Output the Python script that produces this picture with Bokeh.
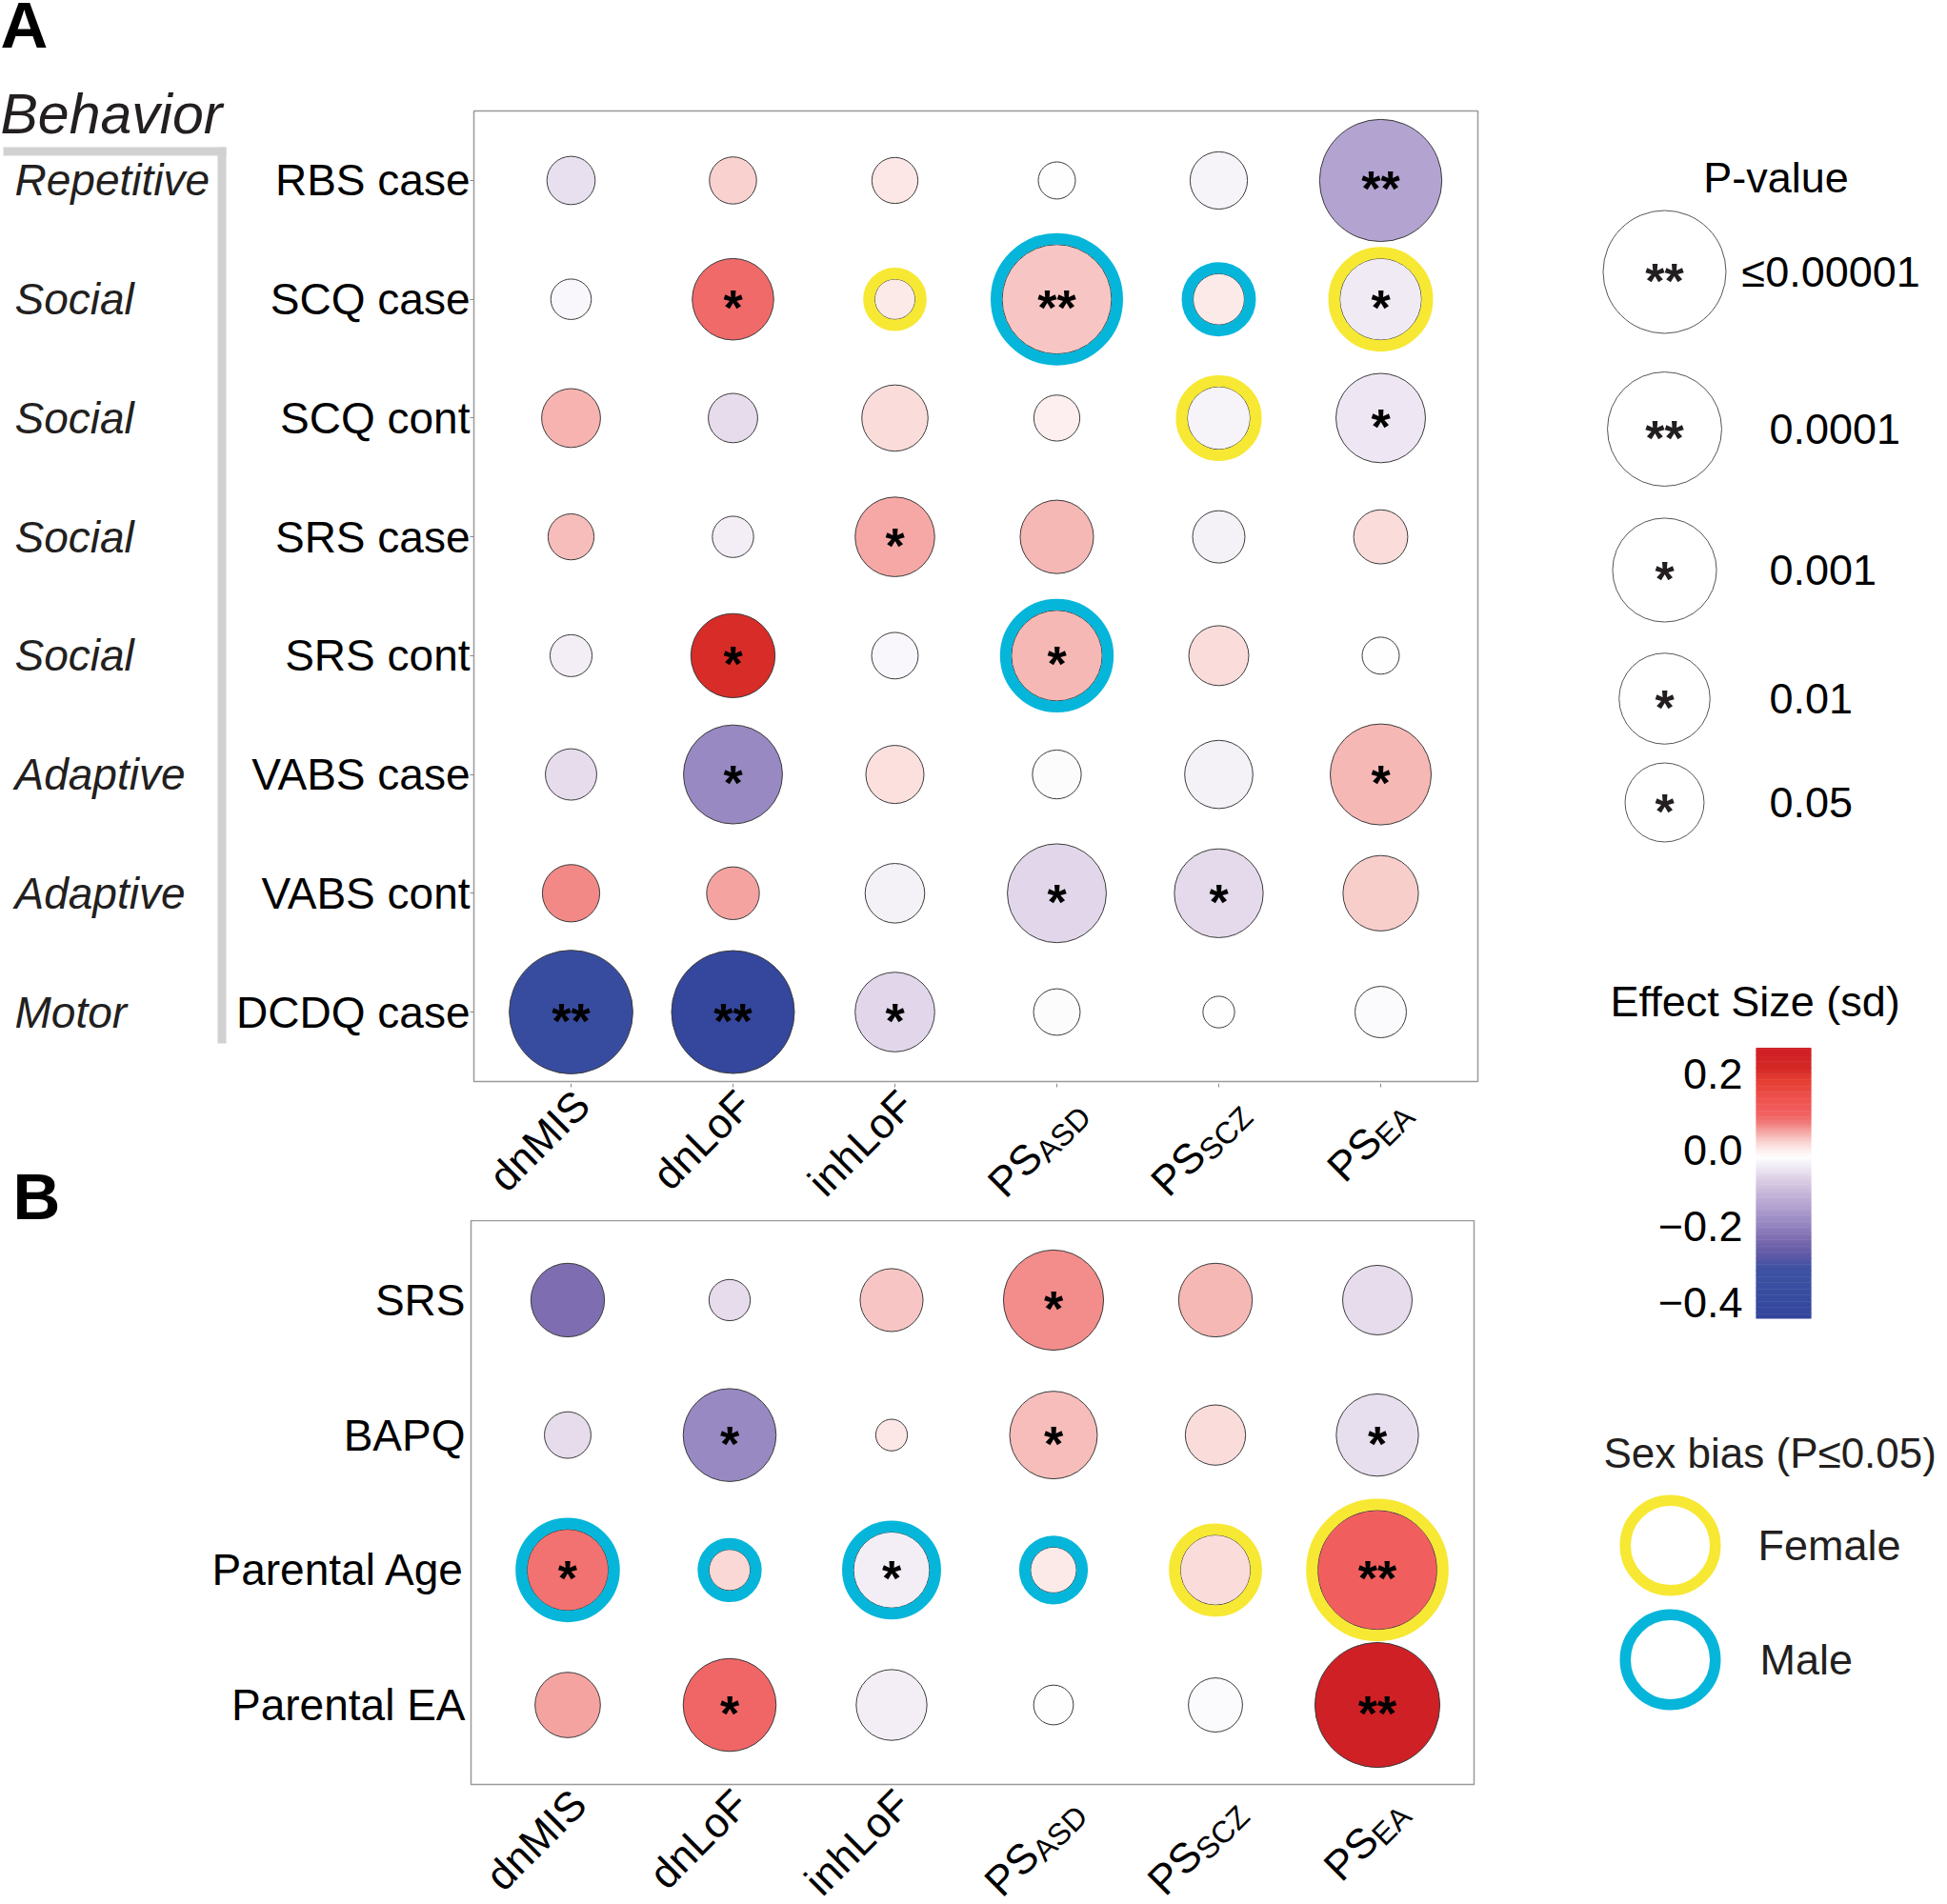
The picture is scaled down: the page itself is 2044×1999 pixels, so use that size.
import math
from bokeh.plotting import figure
from bokeh.models import ColumnDataSource, FactorRange, Range1d, LinearColorMapper
from bokeh.layouts import row, column
from bokeh.transform import transform
from bokeh.core.properties import value
from bokeh.embed import file_html
from bokeh.resources import INLINE

# ------------------------------------------------------------------ data
predictors = ["dnMIS", "dnLoF", "inhLoF", "PS_ASD", "PS_SCZ", "PS_EA"]
predictor_main = ["dnMIS", "dnLoF", "inhLoF", "PS", "PS", "PS"]
predictor_sub = ["", "", "", "ASD", "SCZ", "EA"]

measures_A = ["RBS case", "SCQ case", "SCQ cont", "SRS case", "SRS cont",
              "VABS case", "VABS cont", "DCDQ case"]
domains_A = ["Repetitive", "Social", "Social", "Social", "Social",
             "Adaptive", "Adaptive", "Motor"]
effect_A = [
    [-0.058, 0.020, 0.004, -0.020, -0.035, -0.145],
    [-0.030, 0.085, 0.000, 0.030, 0.002, -0.045],
    [0.040, -0.062, 0.013, -0.005, -0.035, -0.050],
    [0.035, -0.040, 0.046, 0.036, -0.038, 0.012],
    [-0.040, 0.210, -0.028, 0.038, 0.013, -0.020],
    [-0.062, -0.190, 0.010, -0.024, -0.038, 0.036],
    [0.062, 0.047, -0.038, -0.068, -0.066, 0.022],
    [-0.385, -0.430, -0.068, -0.024, -0.020, -0.027],
]
neglog10p_A = [
    [0.29, 0.27, 0.25, 0.13, 0.49, 4.93],
    [0.17, 1.43, 0.17, 3.52, 0.35, 1.45],
    [0.53, 0.31, 0.76, 0.25, 0.65, 1.90],
    [0.25, 0.18, 1.33, 1.04, 0.37, 0.41],
    [0.19, 1.58, 0.26, 1.99, 0.56, 0.13],
    [0.35, 2.58, 0.51, 0.30, 0.83, 2.75],
    [0.49, 0.38, 0.55, 2.58, 1.86, 1.13],
    [5.09, 5.00, 1.33, 0.26, 0.08, 0.35],
]
stars_A = [
    ["", "", "", "", "", "**"],
    ["", "*", "", "**", "", "*"],
    ["", "", "", "", "", "*"],
    ["", "", "*", "", "", ""],
    ["", "*", "", "*", "", ""],
    ["", "*", "", "", "", "*"],
    ["", "", "", "*", "*", ""],
    ["**", "**", "*", "", "", ""],
]
sexbias_A = [
    ["", "", "", "", "", ""],
    ["", "", "F", "M", "M", "F"],
    ["", "", "", "", "F", ""],
    ["", "", "", "", "", ""],
    ["", "", "", "M", "", ""],
    ["", "", "", "", "", ""],
    ["", "", "", "", "", ""],
    ["", "", "", "", "", ""],
]

measures_B = ["SRS", "BAPQ", "Parental Age", "Parental EA"]
effect_B = [
    [-0.232, -0.062, 0.028, 0.058, 0.036, -0.062],
    [-0.062, -0.190, 0.004, 0.035, 0.012, -0.060],
    [0.078, 0.016, -0.040, 0.000, 0.013, 0.100],
    [0.047, 0.088, -0.040, -0.022, -0.026, 0.262],
]
neglog10p_B = [
    [1.05, 0.18, 0.65, 2.68, 1.05, 0.88],
    [0.26, 2.13, 0.08, 1.78, 0.57, 1.47],
    [1.43, 0.18, 1.16, 0.25, 0.91, 4.61],
    [0.73, 2.13, 0.93, 0.16, 0.41, 5.26],
]
stars_B = [
    ["", "", "", "*", "", ""],
    ["", "*", "", "*", "", "*"],
    ["*", "", "*", "", "", "**"],
    ["", "*", "", "", "", "**"],
]
sexbias_B = [
    ["", "", "", "", "", ""],
    ["", "", "", "", "", ""],
    ["M", "M", "M", "M", "F", "F"],
    ["", "", "", "", "", ""],
]

pvalue_levels = [1e-5, 1e-4, 1e-3, 1e-2, 0.05]
pvalue_labels = ["\u22640.00001", "0.0001", "0.001", "0.01", "0.05"]
pvalue_stars = ["**", "**", "*", "*", "*"]
effect_ticks = [0.2, 0.0, -0.2, -0.4]
effect_tick_labels = ["0.2", "0.0", "\u22120.2", "\u22120.4"]
sex_keys = ["F", "M"]
sex_labels = ["Female", "Male"]

# ------------------------------------------------------------------ styles
FONT = "Liberation Sans"
INK = "#231f20"
GRID_GRAY = "#9a9a9a"
SEX_COLOR = {"F": "#f7e833", "M": "#06b6da"}
RING_W = 12
STAR_PX = 52
STAR_DY = 9
MID = 0.35                       # em offset between baseline and middle line
MAIN_PX, SUB_PX = 44, 32
NP_DX, NP_DY = 11.5, 17          # anchor of plain tick labels (from tick / frame bottom)
PS_DX, PS_DY = 23, 25            # anchor of subscripted tick labels
SUB_DROP = 7
SUB_W = {"A": 0.667, "S": 0.667, "D": 0.722, "C": 0.722, "Z": 0.611, "E": 0.667}

STOPS = [(-0.444, "#33459b"), (-0.362, "#3a4fa1"), (-0.312, "#3f51a2"),
         (-0.278, "#5e5aa6"), (-0.245, "#7566ac"), (-0.203, "#9282be"),
         (-0.152, "#b0a0cf"), (-0.111, "#c8b8da"), (-0.077, "#ddd0e6"),
         (-0.043, "#f1ecf5"), (-0.020, "#ffffff"), (0.0025, "#fce9e8"),
         (0.032, "#f7c3c0"), (0.061, "#f28b89"), (0.090, "#f06363"),
         (0.132, "#ef5350"), (0.183, "#e43d32"), (0.216, "#d42826"),
         (0.266, "#cf1f26")]
LOW, HIGH = STOPS[0][0], STOPS[-1][0]


def _hex(c):
    return tuple(int(c[i:i + 2], 16) for i in (1, 3, 5))


def build_palette(n=256):
    out = []
    for k in range(n):
        v = LOW + (HIGH - LOW) * k / (n - 1)
        for (v0, c0), (v1, c1) in zip(STOPS[:-1], STOPS[1:]):
            if v0 <= v <= v1:
                t = (v - v0) / (v1 - v0)
                a, b = _hex(c0), _hex(c1)
                out.append("#%02x%02x%02x" % tuple(round(a[i] + (b[i] - a[i]) * t) for i in range(3)))
                break
    return out


mapper = LinearColorMapper(palette=build_palette(), low=LOW, high=HIGH)


def diameter(nlp):
    return 76.1 * nlp ** 0.328


def sub_width(s):
    return sum(SUB_W[ch] for ch in s) * SUB_PX


def blank(p):
    p.xgrid.visible = False
    p.ygrid.visible = False
    p.outline_line_color = None
    p.background_fill_color = "white"
    p.border_fill_color = "white"


def cells(measures, eff, nlp, stars, sex):
    d = dict(x=[], y=[], effect=[], size=[], star=[])
    rg = dict(x=[], y=[], size=[], color=[])
    for i, m in enumerate(measures):
        for j, pr in enumerate(predictors):
            s = diameter(nlp[i][j])
            d["x"].append(pr); d["y"].append(m)
            d["effect"].append(eff[i][j]); d["size"].append(s)
            d["star"].append(stars[i][j])
            if sex[i][j]:
                rg["x"].append(pr); rg["y"].append(m)
                rg["size"].append(s + RING_W)
                rg["color"].append(SEX_COLOR[sex[i][j]])
    return ColumnDataSource(d), ColumnDataSource(rg)


def make_panel(measures, eff, nlp, stars, sex, width, fw, fh, left, top, bottom,
               xpad, ypad, standoff, tick_out):
    p = figure(x_range=FactorRange(factors=predictors, range_padding=xpad, range_padding_units="absolute"),
               y_range=FactorRange(factors=measures[::-1], range_padding=ypad, range_padding_units="absolute"),
               frame_width=fw, frame_height=fh, min_border_left=left,
               min_border_right=width - left - fw, min_border_top=top, min_border_bottom=bottom,
               x_axis_location=None, output_backend="svg", toolbar_location=None, title=None)
    p.xgrid.visible = False
    p.ygrid.visible = False
    p.outline_line_color = GRID_GRAY
    p.outline_line_width = 1.5
    p.background_fill_color = "white"
    p.border_fill_color = "white"
    ax = p.yaxis[0]
    ax.axis_line_color = None
    ax.major_tick_line_color = "#8a8a8a"
    ax.major_tick_in = 0
    ax.major_tick_out = tick_out
    ax.minor_tick_line_color = None
    ax.major_label_text_font = FONT
    ax.major_label_text_font_size = "46px"
    ax.major_label_text_color = "black"
    ax.major_label_standoff = standoff

    src, rings = cells(measures, eff, nlp, stars, sex)
    p.scatter("x", "y", size="size", source=src, fill_color=transform("effect", mapper),
              line_color="#3b3b3b", line_width=1)
    p.scatter("x", "y", size="size", source=rings, fill_color=None,
              line_color="color", line_width=RING_W)
    p.text("x", "y", text="star", source=src, text_align="center", text_baseline="alphabetic",
           y_offset=STAR_DY, text_font=value(FONT), text_font_style="bold",
           text_font_size=value("%dpx" % STAR_PX), text_color="black")
    return p


def make_xlabels(panel, width, fw, left, y_top, y_bottom, label_top_ref, ticks):
    """Strip under a panel that shares its x scale; y data = minus reference pixel row."""
    p = figure(x_range=panel.x_range, y_range=Range1d(-y_bottom, -y_top),
               frame_width=fw, frame_height=y_bottom - y_top, min_border_left=left,
               min_border_right=width - left - fw, min_border_top=0, min_border_bottom=0,
               x_axis_location=None, y_axis_location=None, output_backend="svg",
               toolbar_location=None, title=None)
    blank(p)
    if ticks:
        p.segment(x0=predictors, y0=[-y_top] * 6, x1=predictors, y1=[-(y_top + 4)] * 6,
                  line_color="#8a8a8a", line_width=1)
    c45 = math.cos(math.pi / 4)
    m_xo, m_y, s_xo, s_y = [], [], [], []
    for sub in predictor_sub:
        if sub:
            s = sub_width(sub) * c45
            m_xo.append(PS_DX - s); m_y.append(-(label_top_ref + PS_DY + s))
            s_xo.append(PS_DX + SUB_DROP); s_y.append(-(label_top_ref + PS_DY + SUB_DROP))
        else:
            m_xo.append(NP_DX); m_y.append(-(label_top_ref + NP_DY))
            s_xo.append(NP_DX); s_y.append(-(label_top_ref + NP_DY))
    main = ColumnDataSource(dict(x=predictors, y=m_y, text=predictor_main, xo=m_xo))
    subs = ColumnDataSource(dict(x=predictors, y=s_y, text=predictor_sub, xo=s_xo))
    for src, px in ((main, MAIN_PX), (subs, SUB_PX)):
        p.text("x", "y", text="text", x_offset="xo", source=src, angle=math.pi / 4,
               text_align="right", text_baseline="alphabetic", text_font=value(FONT),
               text_font_size=value("%dpx" % px), text_color="black")
    return p


# ------------------------------------------------------------------ panel A
# figA: reference pixels x 242..1660, y 0..1137 ; frame x 497..1551, y 116..1135
A_PAD_X, A_PAD_Y = 0.1, 0.085     # FactorRange padding, applied on each side
figA = make_panel(measures_A, effect_A, neglog10p_A, stars_A, sexbias_A,
                  width=1418, fw=1054, fh=1019, left=255, top=116, bottom=2,
                  xpad=A_PAD_X, ypad=A_PAD_Y, standoff=0, tick_out=4)
figA_x = make_xlabels(figA, 1418, 1054, 255, 1137, 1281, 1135, ticks=True)

# left strip for panel A: reference pixels x 0..242, y 0..1281
figLeft = figure(x_range=Range1d(0, 242), y_range=Range1d(1281, 0), width=242, height=1281,
                 min_border=0, x_axis_type=None, y_axis_type=None, output_backend="svg",
                 toolbar_location=None, title=None)
blank(figLeft)
row_step_A = 1019 / (len(measures_A) + 2 * A_PAD_Y)
domain_y = [116 + (A_PAD_Y + i + 0.5) * row_step_A for i in range(len(measures_A))]
figLeft.text(x=[15] * len(domains_A), y=domain_y, text=domains_A, text_align="left",
             text_baseline="middle", text_font=value(FONT), text_font_style="italic",
             text_font_size=value("46px"), text_color=INK)
figLeft.quad(left=[3, 228], right=[237, 237], top=[154, 154], bottom=[163, 1095],
             fill_color="#d1d1d1", line_color=None)
figLeft.text(x=[0], y=[140 - MID * 59], text=["Behavior"], text_align="left",
             text_baseline="middle", text_font=value(FONT), text_font_style="italic",
             text_font_size=value("59px"), text_color=INK)
figLeft.text(x=[0, 13], y=[50 - MID * 69, 1280 - MID * 69], text=["A", "B"], text_align="left",
             text_baseline="middle", text_font=value(FONT), text_font_style="bold",
             text_font_size=value("69px"), text_color="black")

# ------------------------------------------------------------------ panel B
# figB: reference pixels x 0..1660, y 1281..1875 ; frame x 494..1547, y 1281..1873
figB = make_panel(measures_B, effect_B, neglog10p_B, stars_B, sexbias_B,
                  width=1660, fw=1053, fh=592, left=494, top=0, bottom=2,
                  xpad=0.097, ypad=0.089, standoff=6, tick_out=0)
figB_x = make_xlabels(figB, 1660, 1053, 494, 1875, 1999, 1869, ticks=False)

# ------------------------------------------------------------------ legends
# figL: reference pixels x 1660..2044, y 0..1999 (data units = reference pixels)
figL = figure(x_range=Range1d(1660, 2044), y_range=Range1d(1999, 0), width=384, height=1999,
              min_border=0, x_axis_type=None, y_axis_type=None, output_backend="svg",
              toolbar_location=None, title=None)
blank(figL)

leg_y = [285, 450, 598, 733, 842]
leg_sizes = [diameter(-math.log10(pv)) for pv in pvalue_levels]
figL.text(x=[1864], y=[202 - MID * 45], text=["P-value"], text_align="center",
          text_baseline="middle", text_font=value(FONT), text_font_size=value("45px"),
          text_color="black")
figL.scatter(x=[1747] * 5, y=leg_y, size=leg_sizes, fill_color="white",
             line_color="#555555", line_width=1)
figL.text(x=[1747] * 5, y=leg_y, text=pvalue_stars, text_align="center",
          text_baseline="alphabetic", y_offset=STAR_DY, text_font=value(FONT),
          text_font_style="bold", text_font_size=value("%dpx" % STAR_PX), text_color=INK)
figL.text(x=[1828, 1857, 1857, 1857, 1857], y=leg_y, text=pvalue_labels, text_align="left",
          text_baseline="middle", text_font=value(FONT), text_font_size=value("45px"),
          text_color="black")

figL.text(x=[1690], y=[1067 - MID * 45], text=["Effect Size (sd)"], text_align="left",
          text_baseline="middle", text_font=value(FONT), text_font_size=value("45px"),
          text_color="black")
N = 240
v_lo = [LOW + (HIGH - LOW) * k / N for k in range(N)]
v_hi = [LOW + (HIGH - LOW) * (k + 1) / N for k in range(N)]
cb = ColumnDataSource(dict(top=[1206.5 - v * 400 - 0.6 for v in v_hi],
                           bottom=[1206.5 - v * 400 for v in v_lo],
                           v=[(a + b) / 2 for a, b in zip(v_lo, v_hi)]))
figL.quad(left=1843, right=1901, top="top", bottom="bottom", source=cb,
          fill_color=transform("v", mapper), line_color=None)
figL.text(x=[1829] * 4, y=[1206.5 - t * 400 for t in effect_ticks], text=effect_tick_labels,
          text_align="right", text_baseline="middle", text_font=value(FONT),
          text_font_size=value("45px"), text_color="black")

figL.text(x=[1683], y=[1540 - MID * 44], text=["Sex bias (P\u22640.05)"], text_align="left",
          text_baseline="middle", text_font=value(FONT), text_font_size=value("44px"),
          text_color=INK)
sex_y = [1622, 1742]
figL.scatter(x=[1753, 1753], y=sex_y, size=94.5, fill_color=None,
             line_color=[SEX_COLOR[k] for k in sex_keys], line_width=11.5)
figL.text(x=[1845, 1847], y=sex_y, text=sex_labels, text_align="left", text_baseline="middle",
          text_font=value(FONT), text_font_size=value("45px"), text_color=INK)

top_block = row(figLeft, column(figA, figA_x, spacing=0), spacing=0)
layout = row(column(top_block, figB, figB_x, spacing=0), figL, spacing=0)
open("out.html", "w").write(file_html(layout, INLINE))
